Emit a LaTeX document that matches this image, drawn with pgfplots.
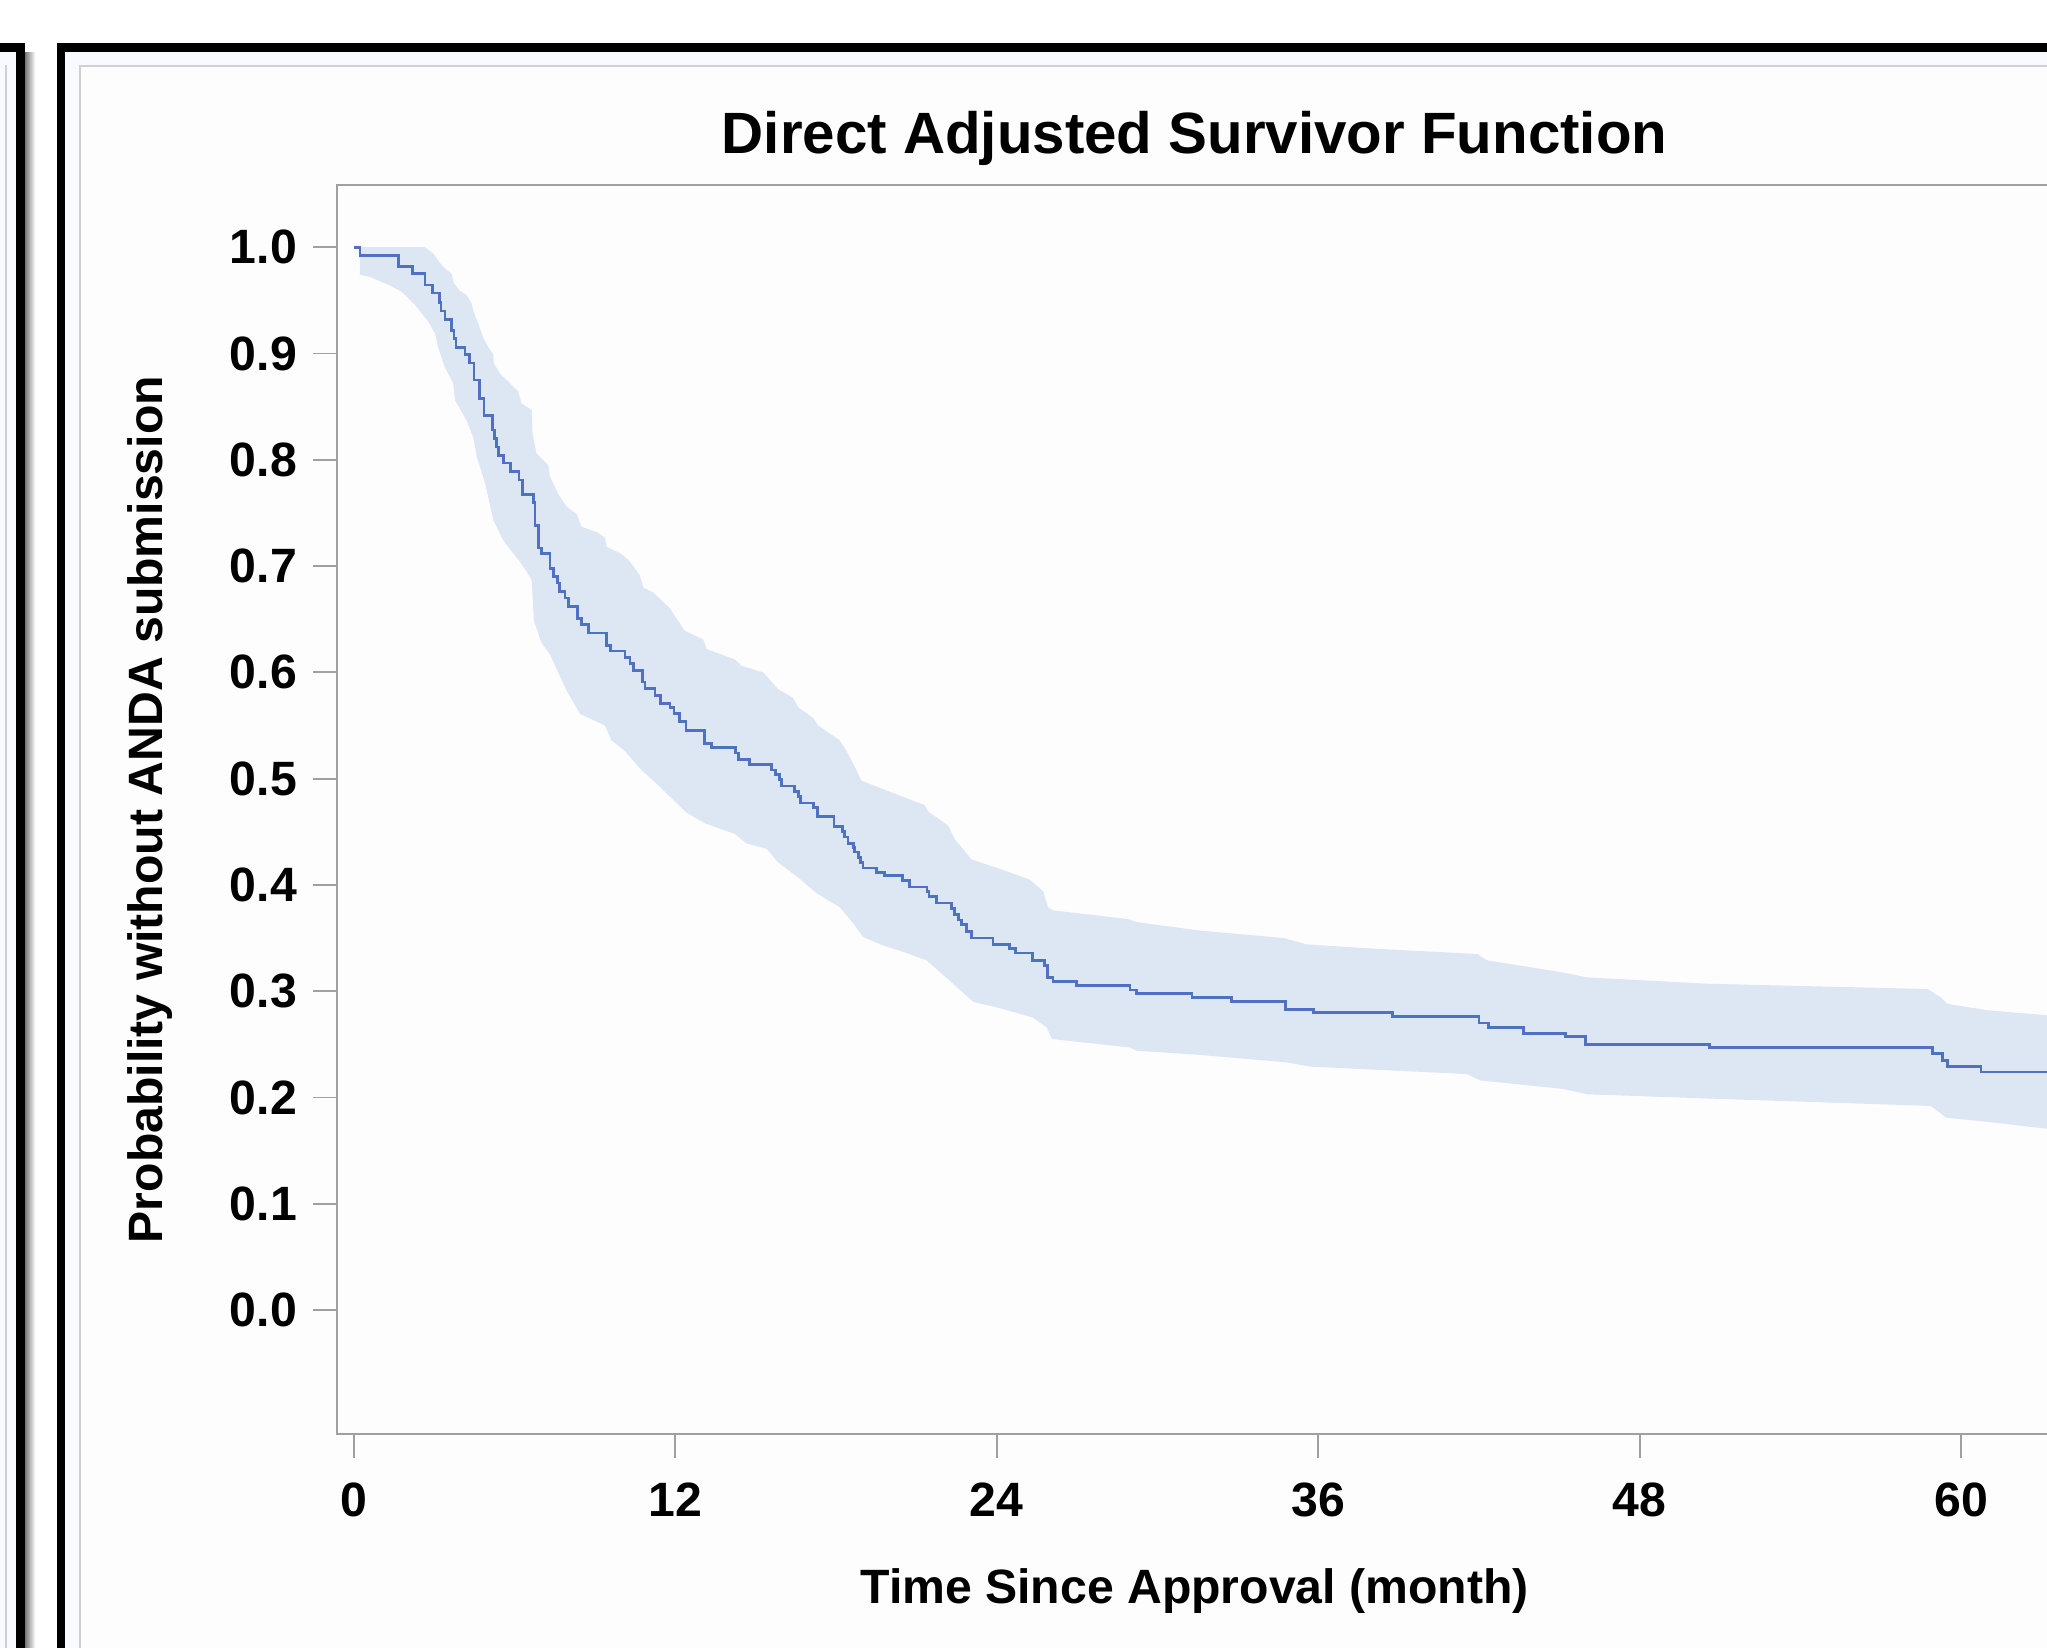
\documentclass[border=0pt]{standalone}
\usepackage{pgfplots}
\pgfplotsset{compat=1.18}
\usepackage{fontspec}
\setmainfont{Liberation Sans}
\definecolor{lineblue}{RGB}{78,114,192}
\definecolor{bandblue}{RGB}{221,230,243}
\definecolor{axgray}{RGB}{160,160,160}
\definecolor{panelstrip}{RGB}{248,250,255}
\definecolor{framegray}{RGB}{208,208,208}
\definecolor{innerbg}{RGB}{253,253,253}
\begin{document}
\begin{tikzpicture}
\fill[white] (0,0) rectangle (156.8mm,126.2mm);
% left (neighbouring) panel
\fill[panelstrip] (0,0) rectangle (1.23mm,122.2mm);
\fill[framegray] (0.38mm,0) rectangle (0.51mm,121.2mm);
\shade[left color=black!55, right color=white] (1.9mm,0) rectangle (2.7mm,122.2mm);
\fill[black] (1.23mm,0) rectangle (1.9mm,122.9mm);
\fill[black] (0,122.2mm) rectangle (1.9mm,122.9mm);
% main panel
\fill[black] (4.37mm,0) rectangle (4.98mm,122.9mm);
\fill[black] (4.37mm,122.2mm) rectangle (156.8mm,122.9mm);
\fill[panelstrip] (4.98mm,0) rectangle (156.8mm,122.2mm);
\fill[framegray] (6.05mm,0) rectangle (156.8mm,121.2mm);
\fill[innerbg] (6.23mm,0) rectangle (156.8mm,121.05mm);
\begin{axis}[
  at={(25.81mm,16.33mm)}, anchor=south west,
  scale only axis, width=131.39mm, height=95.7mm,
  xmin=-0.63, xmax=63.4, ymin=-0.117, ymax=1.0586,
  axis line style={axgray, line width=0.4pt},
  tick style={axgray, line width=0.4pt},
  tick align=outside, tick pos=left, major tick length=1.8mm,
  xtick={0,12,24,36,48,60},
  ytick={0,0.1,0.2,0.3,0.4,0.5,0.6,0.7,0.8,0.9,1.0},
  /pgf/number format/assume math mode=true,
  yticklabel style={/pgf/number format/.cd, fixed, fixed zerofill, precision=1, /tikz/.cd},
  ticklabel style={font=\fontsize{10.5}{12}\selectfont\bfseries, inner sep=0pt},
  xticklabel style={anchor=north, yshift=-1.83mm},
  yticklabel style={anchor=east, xshift=-1.2mm},
  every axis title shift=0pt,
  title={Direct Adjusted Survivor Function},
  title style={at={(axis description cs:0.5,1.0254)}, anchor=base, inner sep=0pt, font=\fontsize{12.7}{15}\selectfont\bfseries},
  xlabel={Time Since Approval (month)},
  xlabel style={at={(axis description cs:0.5,-0.1351)}, anchor=base, inner sep=0pt, font=\fontsize{10.5}{12}\selectfont\bfseries},
  ylabel={Probability without ANDA submission},
  ylabel style={at={(axis description cs:-0.10153,0.5)}, rotate=0, anchor=base, inner sep=0pt, font=\fontsize{10.5}{12}\selectfont\bfseries},
]
% confidence band: upper limits left to right, then lower limits right to left
\addplot[fill=bandblue, draw=none, forget plot] coordinates {
(0.23,1.0) (2.66,1.0) (2.97,0.994) (3.22,0.985) (3.40,0.980) (3.65,0.975) (3.74,0.966)
(3.96,0.959) (4.21,0.955) (4.40,0.947) (4.46,0.940) (4.65,0.928) (4.83,0.915) (5.02,0.906)
(5.21,0.899) (5.22,0.891) (5.46,0.881) (5.83,0.872) (6.14,0.864) (6.26,0.853) (6.64,0.847)
(6.67,0.825) (6.82,0.806) (7.26,0.795) (7.32,0.784) (7.63,0.768) (7.94,0.756) (8.32,0.749)
(8.50,0.737) (9.06,0.732) (9.37,0.727) (9.44,0.718) (9.95,0.712) (10.24,0.706) (10.37,0.702)
(10.68,0.691) (10.80,0.680) (11.18,0.675) (11.77,0.661) (12.36,0.639) (13.04,0.631) (13.17,0.622)
(14.23,0.612) (14.48,0.606) (15.28,0.600) (15.84,0.584) (16.40,0.576) (16.59,0.567) (17.15,0.557)
(17.33,0.550) (18.14,0.536) (18.39,0.526) (18.70,0.511) (18.95,0.498) (19.57,0.492) (20.38,0.484)
(21.31,0.475) (21.44,0.469) (22.18,0.456) (22.43,0.443) (22.80,0.432) (23.06,0.424) (24.12,0.415)
(25.23,0.405) (25.73,0.394) (25.91,0.379) (26.10,0.376) (28.85,0.368) (29.22,0.365) (31.59,0.357)
(34.70,0.350) (35.58,0.344) (38.06,0.340) (41.93,0.335) (42.30,0.329) (45.04,0.318) (46.04,0.313)
(50.52,0.307) (58.75,0.302) (59.24,0.294) (59.49,0.288) (60.99,0.282) (63.4,0.277)
(63.4,0.170) (60.99,0.177) (59.44,0.181) (58.87,0.192) (50.52,0.199) (46.04,0.203) (45.16,0.208)
(42.05,0.216) (41.55,0.222) (35.70,0.229) (34.83,0.233) (31.59,0.240) (29.22,0.244) (28.97,0.247)
(26.06,0.255) (25.86,0.266) (25.36,0.275) (24.12,0.284) (23.12,0.290) (22.37,0.307) (21.38,0.329)
(20.51,0.337) (19.76,0.343) (19.01,0.351) (18.64,0.364) (18.14,0.379) (17.28,0.392) (16.59,0.407)
(15.84,0.421) (15.41,0.434) (14.66,0.439) (14.22,0.448) (13.10,0.458) (12.42,0.468) (11.80,0.483)
(11.36,0.494) (10.74,0.508) (10.12,0.526) (9.62,0.536) (9.37,0.550) (8.44,0.561) (7.94,0.583)
(7.63,0.600) (7.32,0.617) (7.00,0.628) (6.72,0.649) (6.64,0.687) (6.26,0.702) (5.95,0.712)
(5.58,0.724) (5.21,0.743) (4.90,0.778) (4.59,0.803) (4.46,0.821) (4.21,0.837) (3.78,0.856)
(3.71,0.872) (3.40,0.887) (3.15,0.906) (3.03,0.919) (2.78,0.930) (2.28,0.946) (1.79,0.958)
(1.35,0.964) (0.61,0.972) (0.23,0.974)
} -- cycle;
\addplot[lineblue, line width=0.6pt, const plot] coordinates {
(0,1.0) (0.23,0.992) (1.66,0.982) (2.18,0.975) (2.66,0.9645) (2.94,0.957) (3.19,0.948)
(3.25,0.940) (3.40,0.932) (3.65,0.922) (3.74,0.914) (3.81,0.906) (4.15,0.899) (4.31,0.891)
(4.49,0.875) (4.68,0.858) (4.86,0.842) (5.18,0.828) (5.24,0.820) (5.33,0.812) (5.39,0.804)
(5.60,0.797) (5.85,0.789) (6.17,0.781) (6.30,0.767) (6.70,0.760) (6.76,0.738) (6.88,0.717)
(7.01,0.712) (7.32,0.698) (7.44,0.690) (7.59,0.684) (7.69,0.676) (7.88,0.670) (8.00,0.662)
(8.34,0.651) (8.50,0.645) (8.75,0.637) (9.44,0.625) (9.59,0.620) (10.12,0.614) (10.31,0.608)
(10.43,0.602) (10.78,0.591) (10.87,0.585) (11.24,0.578) (11.45,0.571) (11.80,0.567) (11.95,0.561)
(12.17,0.554) (12.40,0.545) (13.10,0.533) (13.35,0.529) (14.26,0.524) (14.35,0.518) (14.76,0.513)
(15.59,0.508) (15.75,0.504) (15.88,0.499) (15.96,0.493) (16.46,0.488) (16.59,0.483) (16.68,0.477)
(17.15,0.473) (17.30,0.464) (17.92,0.455) (18.24,0.450) (18.33,0.445) (18.45,0.439) (18.64,0.435)
(18.70,0.431) (18.83,0.426) (18.92,0.421) (19.01,0.416) (19.51,0.412) (19.80,0.409) (20.48,0.404)
(20.75,0.398) (21.40,0.394) (21.47,0.389) (21.75,0.383) (22.31,0.378) (22.43,0.372) (22.56,0.367)
(22.68,0.363) (22.87,0.356) (23.06,0.350) (23.86,0.344) (24.48,0.340) (24.71,0.336) (25.33,0.329)
(25.78,0.324) (25.88,0.313) (26.10,0.309) (26.98,0.305) (28.97,0.301) (29.22,0.298) (31.29,0.294)
(32.76,0.290) (34.78,0.283) (35.82,0.280) (38.76,0.276) (42.00,0.270) (42.35,0.266) (43.67,0.260)
(45.24,0.257) (45.99,0.250) (50.60,0.247) (58.94,0.241) (59.29,0.235) (59.49,0.229) (60.74,0.224)
(63.4,0.224)
};
\end{axis}
\pgfresetboundingbox
\path[use as bounding box] (0,0) rectangle (156.8mm,126.2mm);
\end{tikzpicture}
\end{document}
